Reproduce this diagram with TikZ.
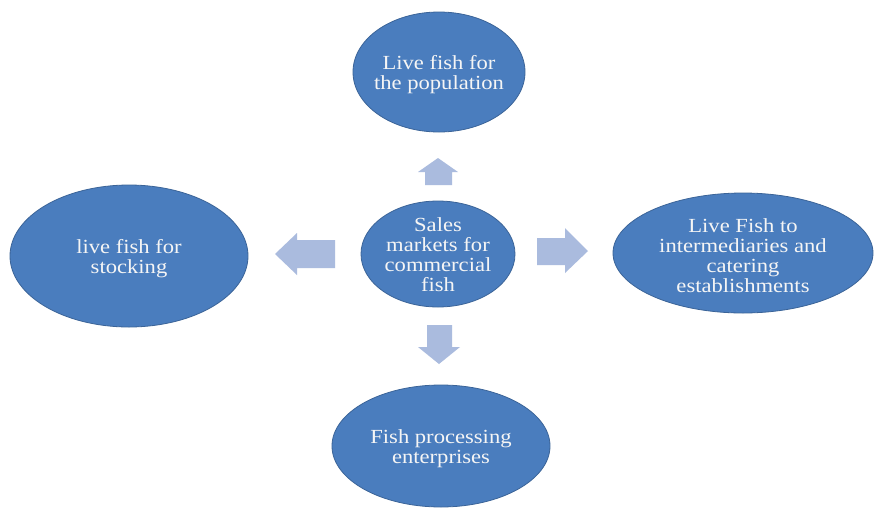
\documentclass[tikz,border=0pt]{standalone}
\usepackage{fontspec}
\setmainfont{Liberation Serif}[FakeStretch=1.13]
\usetikzlibrary{shapes.geometric}
\definecolor{ellblue}{RGB}{74,125,190}
\definecolor{arrblue}{RGB}{170,187,222}
\begin{document}
\begin{tikzpicture}[x=1pt,y=-1pt,
  ell/.style={ellipse,fill=ellblue,draw=ellblue!80!black,line width=0.8pt,inner sep=0pt},
  txt/.style={text=white!96!black,align=center,font=\fontsize{20}{20}\selectfont,inner sep=0pt,yshift=-3pt},
  blockarrow/.style={fill=arrblue,draw=none}]
\useasboundingbox (0,0) rectangle (876,507);
\fill[white] (0,0) rectangle (876,507);
% ellipses
\node[ell,minimum width=172pt,minimum height=120pt] (top) at (439,72) {};
\node[txt] (toptxt) at (top) {Live fish for\\the population};
\node[ell,minimum width=154pt,minimum height=106pt] (mid) at (438,254) {};
\node[txt,yshift=2pt] (midtxt) at (mid) {Sales\\markets for\\commercial\\fish};
\node[ell,minimum width=238pt,minimum height=142pt] (left) at (129,256) {};
\node[txt] (lefttxt) at (left) {live fish for\\stocking};
\node[ell,minimum width=260pt,minimum height=120pt] (right) at (743,253) {};
\node[txt] (righttxt) at (right) {Live Fish to\\intermediaries and\\catering\\establishments};
\node[ell,minimum width=218pt,minimum height=122pt] (bot) at (441,446) {};
\node[txt] (bottxt) at (bot) {Fish processing\\enterprises};
% block arrows
\fill[blockarrow] (275,254) -- (297,233) -- (297,240) -- (335,240) -- (335,268) -- (297,268) -- (297,275) -- cycle;
\fill[blockarrow] (588,251) -- (565,228) -- (565,238) -- (537,238) -- (537,265) -- (565,265) -- (565,273) -- cycle;
\fill[blockarrow] (438,158) -- (458,172) -- (452,172) -- (452,185) -- (425,185) -- (425,172) -- (418,172) -- cycle;
\fill[blockarrow] (439,364) -- (460,347) -- (452,347) -- (452,325) -- (427,325) -- (427,347) -- (418,347) -- cycle;
\end{tikzpicture}
\end{document}
